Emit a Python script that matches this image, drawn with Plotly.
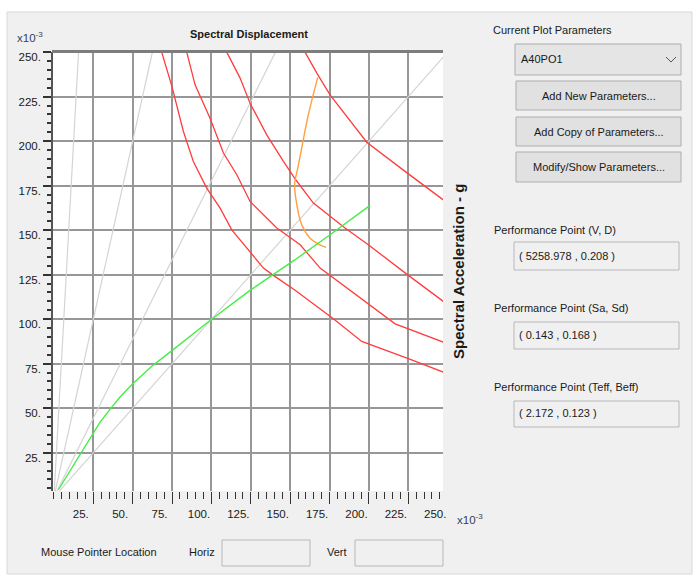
import plotly.graph_objects as go

# ---------------- data ----------------
x_tick_vals = [25, 50, 75, 100, 125, 150, 175, 200, 225, 250]
x_tick_text = ["25.", "50.", "75.", "100.", "125.", "150.", "175.", "200.", "225.", "250."]
y_tick_vals = [25, 50, 75, 100, 125, 150, 175, 200, 225, 250]
y_tick_text = ["25.", "50.", "75.", "100.", "125.", "150.", "175.", "200.", "225.", "250."]

# constant-period radial lines (Sa / Sd slopes)
period_slopes = [16.0, 4.0, 16.0 / 9.0, 1.0]

# demand spectra (red)
demand_a_sd = [68.4, 74.8, 82.2, 88.5, 97.0, 105.5, 112.9, 122.4, 133.0, 139.3, 153.1, 177.4, 195.4, 225.0, 247.2]
demand_a_sa = [250.0, 231.0, 205.4, 188.6, 173.6, 162.4, 150.2, 139.9, 128.7, 124.6, 116.2, 100.2, 87.5, 77.8, 70.3]

demand_b_sd = [84.3, 89.6, 99.1, 107.6, 116.1, 124.5, 141.5, 156.3, 169.0, 175.3, 198.6, 216.6, 247.2]
demand_b_sa = [250.0, 231.6, 212.9, 193.3, 181.1, 166.1, 151.2, 141.8, 128.7, 124.6, 109.6, 97.4, 87.1]

demand_c_sd = [109.7, 118.2, 124.5, 135.1, 145.7, 153.5, 164.7, 184.8, 199.6, 218.7, 225.0, 247.2]
demand_c_sa = [250.0, 235.4, 221.3, 203.5, 188.6, 178.3, 165.2, 151.2, 141.8, 128.7, 124.6, 110.0]

demand_d_sd = [159.4, 166.9, 175.3, 186.9, 198.6, 222.9, 247.2]
demand_d_sa = [250.0, 238.2, 226.0, 212.9, 199.4, 183.0, 167.0]

# family of performance points (orange)
perf_sd = [167.5, 161.5, 157.3, 154.8, 152.8, 154.2, 157.3, 162.6, 167.9, 172.8]
perf_sa = [235.8, 214.8, 196.1, 184.8, 175.9, 164.2, 153.0, 145.5, 142.2, 140.3]

# capacity curve (green)
cap_sd = [2.8, 17.7, 25.0, 29.3, 36.7, 42.0, 50.0, 62.3, 73.7, 99.7, 124.5, 139.3, 153.1, 175.3, 200.7]
cap_sa = [4.2, 25.4, 35.7, 42.2, 50.6, 56.3, 63.7, 73.7, 81.5, 99.7, 116.2, 124.9, 133.4, 147.4, 163.9]

perf_vd = "( 5258.978 , 0.208 )"
perf_sasd = "( 0.143 , 0.168 )"
perf_teff = "( 2.172 , 0.123 )"

# ---------------- layout geometry ----------------
W, H = 696, 578
ML, MR, MT, MB = 53, 253, 52, 87
PW = W - ML - MR
PH = H - MT - MB
X_RANGE = [-0.6, 247.0]
Y_RANGE = [3.5, 250.05]
px_per_unit = PW / (X_RANGE[1] - X_RANGE[0])
label_offset = 12.5 / px_per_unit  # x tick labels sit left of their ticks

FONT = "Liberation Sans, Arial, sans-serif"
BOLD_FONT = "Liberation Sans, Arial, sans-serif"
UI_SIZE = 11


def px(x):
    return (x - ML) / PW


def py(y):
    return (H - MB - y) / PH


fig = go.Figure()

for s in period_slopes:
    ymax = 260.0
    fig.add_trace(go.Scatter(x=[0, ymax / s], y=[0, ymax], mode="lines",
                             line=dict(color="#d4d4d4", width=1.2),
                             showlegend=False, hoverinfo="skip"))

for xs, ys in [(demand_a_sd, demand_a_sa), (demand_b_sd, demand_b_sa),
               (demand_c_sd, demand_c_sa), (demand_d_sd, demand_d_sa)]:
    fig.add_trace(go.Scatter(x=xs, y=ys, mode="lines",
                             line=dict(color="#ff3c3c", width=1.3),
                             showlegend=False))

fig.add_trace(go.Scatter(x=perf_sd, y=perf_sa, mode="lines",
                         line=dict(color="#ffa040", width=1.4, shape="spline"),
                         showlegend=False))
fig.add_trace(go.Scatter(x=cap_sd, y=cap_sa, mode="lines",
                         line=dict(color="#44ee44", width=1.4),
                         showlegend=False))
# dummy trace to activate the label axis
fig.add_trace(go.Scatter(x=[None], y=[None], xaxis="x2", yaxis="y",
                         showlegend=False, hoverinfo="skip"))

shapes = []
shapes.append(dict(type="rect", xref="paper", yref="paper", x0=px(7), x1=px(692), y0=py(574), y1=py(12),
                   fillcolor="#f0f0f0", line=dict(color="#d8d8d8", width=1), layer="below"))
shapes.append(dict(type="rect", xref="paper", yref="paper", x0=0, x1=1, y0=0, y1=1,
                   fillcolor="#ffffff", line=dict(width=0), layer="below"))
shapes.append(dict(type="line", xref="paper", yref="paper", x0=px(52), x1=1, y0=py(51.5), y1=py(51.5),
                   line=dict(color="#7d7d7d", width=3), layer="above"))

shapes.append(dict(type="rect", xref="paper", yref="paper", x0=px(515), x1=px(681), y0=py(75), y1=py(44),
                   fillcolor="#e5e5e5", line=dict(color="#adadad", width=1)))
shapes.append(dict(type="path", xref="paper", yref="paper",
                   path=f"M {px(666)},{py(57)} L {px(671)},{py(62)} L {px(676)},{py(57)}",
                   line=dict(color="#555555", width=1)))
for y0, y1 in [(81, 110), (117, 146), (152, 182)]:
    shapes.append(dict(type="rect", xref="paper", yref="paper", x0=px(516), x1=px(681), y0=py(y1), y1=py(y0),
                       fillcolor="#e1e1e1", line=dict(color="#adadad", width=1)))
for x0, x1, y0, y1 in [(514, 679, 242, 270), (514, 679, 322, 349), (514, 679, 401, 427),
                       (222, 310, 540, 566), (355, 443, 540, 566)]:
    shapes.append(dict(type="rect", xref="paper", yref="paper", x0=px(x0), x1=px(x1), y0=py(y1), y1=py(y0),
                       fillcolor="#f0f0f0", line=dict(color="#b8b8b8", width=1)))

ann = []


def text(x, y, s, size=UI_SIZE, xanchor="left", font=FONT, color="#1a1a1a", angle=0):
    ann.append(dict(x=px(x), y=py(y), xref="paper", yref="paper", text=s, showarrow=False,
                    xanchor=xanchor, yanchor="middle", textangle=angle,
                    font=dict(family=font, size=size, color=color)))


text(249, 34, "<b>Spectral Displacement</b>", 11, "center")
text(15, 37, "x10<sup>-3</sup>", 11.5, "left", color="#34405a")
text(455, 519, "x10<sup>-3</sup>", 11.5, "left", color="#34405a")
text(458, 272, "<b>Spectral Acceleration - g</b>", 15, "center", BOLD_FONT, angle=-90)

text(491, 30, "Current Plot Parameters")
text(519, 59, "A40PO1")
text(598.5, 96, "Add New Parameters...", UI_SIZE, "center")
text(598.5, 131.5, "Add Copy of Parameters...", UI_SIZE, "center")
text(598.5, 167, "Modify/Show Parameters...", UI_SIZE, "center")

text(492, 230, "Performance Point (V, D)")
text(517, 256, perf_vd)
text(492, 308, "Performance Point (Sa, Sd)")
text(517, 335, perf_sasd)
text(492, 387, "Performance Point (Teff, Beff)")
text(517, 413, perf_teff)

text(39, 552, "Mouse Pointer Location")
text(187, 552, "Horiz")
text(325, 552, "Vert")

tick_font = dict(family=FONT, size=11.5, color="#1a1a1a")

fig.update_layout(
    width=W, height=H,
    margin=dict(l=ML, r=MR, t=MT, b=MB, autoexpand=False),
    paper_bgcolor="#ffffff", plot_bgcolor="#ffffff",
    shapes=shapes, annotations=ann, showlegend=False,
    xaxis=dict(range=X_RANGE, tickvals=x_tick_vals, showticklabels=False,
               ticks="outside", ticklen=12, tickwidth=1, tickcolor="#333333",
               minor=dict(dtick=5, tick0=0, ticks="outside", ticklen=7, tickcolor="#333333", showgrid=False),
               showgrid=True, gridcolor="#979797", gridwidth=2, zeroline=False, showline=False),
    xaxis2=dict(range=[X_RANGE[0] + label_offset, X_RANGE[1] + label_offset], overlaying="x", anchor="y",
                side="bottom", tickvals=x_tick_vals, ticktext=x_tick_text,
                ticks="outside", ticklen=12, tickcolor="rgba(0,0,0,0)",
                showgrid=False, zeroline=False, showline=False,
                tickfont=tick_font),
    yaxis=dict(range=Y_RANGE, tickvals=y_tick_vals, ticktext=y_tick_text,
               ticks="outside", ticklen=8, tickwidth=1.5, tickcolor="#333333",
               minor=dict(dtick=5, tick0=0, ticks="outside", ticklen=4, tickcolor="#333333", showgrid=False),
               ticklabelshift=5,
               showgrid=True, gridcolor="#979797", gridwidth=2, zeroline=False,
               showline=True, linecolor="#555555", linewidth=1.5,
               tickfont=tick_font),
)

fig.write_html("out.html")
